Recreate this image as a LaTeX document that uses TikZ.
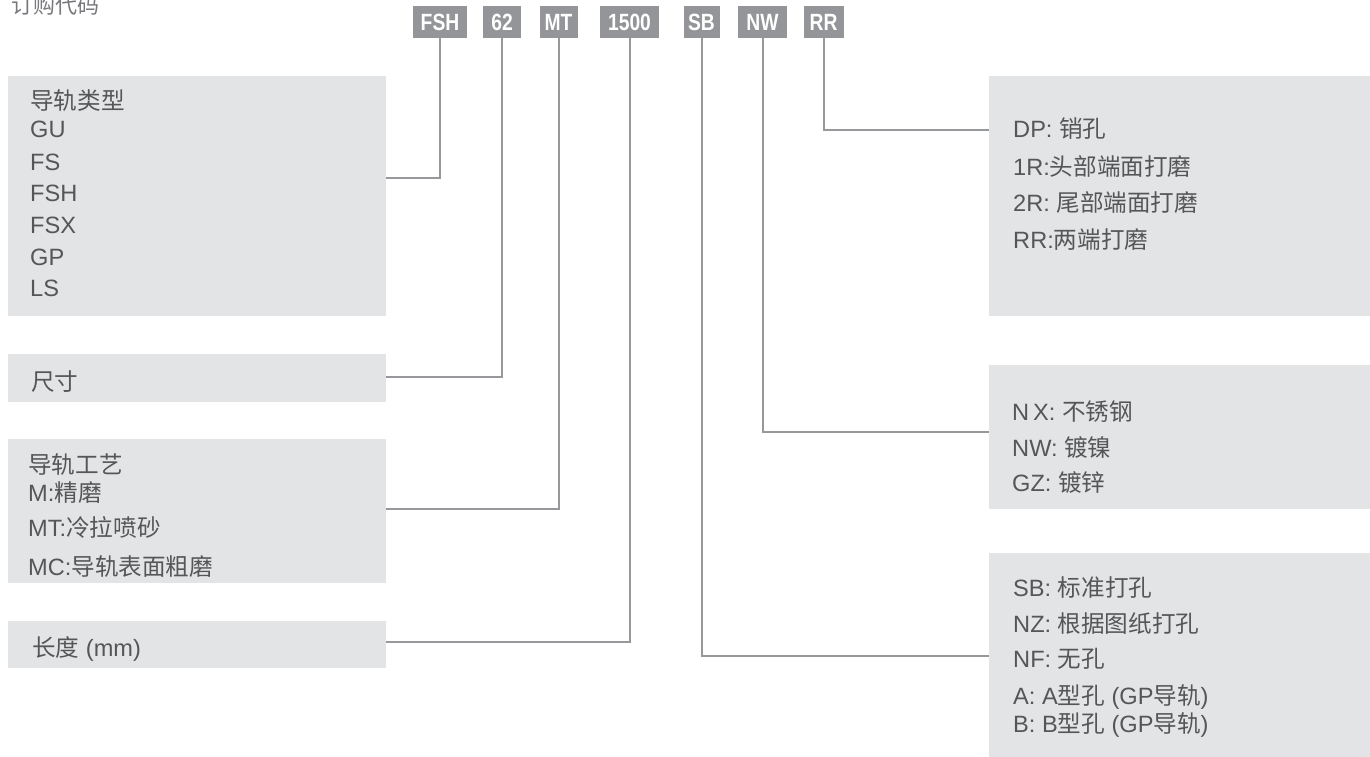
\documentclass[tikz,border=0pt]{standalone}
\usepackage{fontspec}
\setmainfont{Liberation Sans}
\newfontfamily\cjk{Noto Sans CJK SC}
\newfontfamily\lblfont[FakeStretch=0.82]{Liberation Sans}
\newcommand\zh[1]{{\cjk #1}}
\definecolor{panelgray}{RGB}{227,228,230}
\definecolor{labelgray}{RGB}{147,149,152}
\definecolor{linegray}{RGB}{150,152,155}
\definecolor{textgray}{RGB}{85,86,88}
\definecolor{titlegray}{RGB}{120,121,124}
\begin{document}
\begin{tikzpicture}[x=1pt,y=-1pt,
  panel/.style={fill=panelgray, draw=none, inner sep=0pt, outer sep=0pt, anchor=north west},
  codelabel/.style={fill=labelgray, text=white, inner sep=0pt, outer sep=0pt,
    minimum height=32pt, font=\lblfont\bfseries\fontsize{23.5}{26}\selectfont},
  txt/.style={anchor=base west, inner sep=0pt, text=textgray, font=\fontsize{23.6}{28}\selectfont},
  conn/.style={draw=linegray, line width=2pt}]
\useasboundingbox (0,0) rectangle (1370,757);

% title
\node[anchor=base west, inner sep=0pt, text=titlegray, font=\fontsize{22}{26}\selectfont] (title) at (11,14) {\zh{订购代码}};

% code labels
\node[codelabel, minimum width=54pt] (cFSH) at (440,22) {FSH};
\node[codelabel, minimum width=38pt] (c62) at (502,22) {62};
\node[codelabel, minimum width=38pt] (cMT) at (558.5,22) {MT};
\node[codelabel, minimum width=59pt] (c1500) at (629.5,22) {1500};
\node[codelabel, minimum width=36pt] (cSB) at (701.5,22) {SB};
\node[codelabel, minimum width=49pt] (cNW) at (762.5,22) {NW};
\node[codelabel, minimum width=40pt] (cRR) at (823.5,22) {RR};

% left panels
\node[panel, minimum width=378pt, minimum height=240pt] (pType) at (8,76) {};
\node[panel, minimum width=378pt, minimum height=48pt] (pSize) at (8,354) {};
\node[panel, minimum width=378pt, minimum height=144pt] (pProc) at (8,439) {};
\node[panel, minimum width=378pt, minimum height=47pt] (pLen) at (8,621) {};

% right panels
\node[panel, minimum width=381pt, minimum height=240pt] (pEnd) at (989,76) {};
\node[panel, minimum width=381pt, minimum height=144pt] (pSurf) at (989,365) {};
\node[panel, minimum width=381pt, minimum height=204pt] (pHole) at (989,553) {};

% left texts
\node[txt] (t1) at (30,110) {\zh{导轨类型}};
\node[txt] (t2) at (30,138) {GU};
\node[txt] (t3) at (30,170) {FS};
\node[txt] (t4) at (30,201) {FSH};
\node[txt] (t5) at (30,233) {FSX};
\node[txt] (t6) at (30,265) {GP};
\node[txt] (t7) at (30,296) {LS};

\node[txt] (s1) at (31,390) {\zh{尺寸}};

\node[txt] (m1) at (28,473) {\zh{导轨工艺}};
\node[txt] (m2) at (28,501) {M:\zh{精磨}};
\node[txt] (m3) at (28,536) {MT:\zh{冷拉喷砂}};
\node[txt] (m4) at (28,575) {MC:\zh{导轨表面粗磨}};

\node[txt] (l1) at (32,656) {\zh{长度} (mm)};

% right texts
\node[txt] (e1) at (1013,138) {DP: \zh{销孔}};
\node[txt] (e2) at (1013,175) {1R:\zh{头部端面打磨}};
\node[txt] (e3) at (1013,211) {2R: \zh{尾部端面打磨}};
\node[txt] (e4) at (1013,248) {RR:\zh{两端打磨}};

\node[txt] (f1) at (1012,420) {N\,X: \zh{不锈钢}};
\node[txt] (f2) at (1012,456) {NW: \zh{镀镍}};
\node[txt] (f3) at (1012,491) {GZ: \zh{镀锌}};

\node[txt] (h1) at (1013,596) {SB: \zh{标准打孔}};
\node[txt] (h2) at (1013,632) {NZ: \zh{根据图纸打孔}};
\node[txt] (h3) at (1013,667) {NF: \zh{无孔}};
\node[txt] (h4) at (1013,704) {A: A\zh{型孔} (GP\zh{导轨})};
\node[txt] (h5) at (1013,732) {B: B\zh{型孔} (GP\zh{导轨})};

% connectors
\draw[conn] (cFSH.south) |- (pType.east |- 0,178);
\draw[conn] (c62.south) |- (pSize.east |- 0,377);
\draw[conn] (cMT.south) |- (pProc.east |- 0,509);
\draw[conn] (c1500.south) |- (pLen.east |- 0,642);
\draw[conn] (cSB.south) |- (pHole.west |- 0,656);
\draw[conn] (cNW.south) |- (pSurf.west |- 0,432);
\draw[conn] (cRR.south) |- (pEnd.west |- 0,130);
\end{tikzpicture}
\end{document}
